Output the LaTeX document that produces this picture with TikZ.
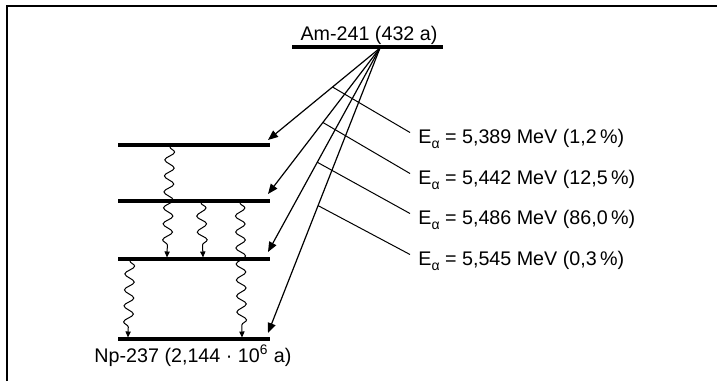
\documentclass[tikz,border=0pt]{standalone}
\usepackage{fontspec}
\setmainfont{Liberation Sans}
\usetikzlibrary{arrows.meta,decorations.pathmorphing,calc}
\begin{document}
\begin{tikzpicture}[x=0.5pt,y=-0.5pt,
  levelbar/.style={line width=1.6pt},
  alphaarrow/.style={line width=0.6pt,-{Triangle[length=5pt,width=4pt]}},
  gamma/.style={line width=0.5pt,decorate,
    decoration={snake,segment length=8pt,amplitude=2.4pt,pre length=0.5pt,post length=3.5pt},
    -{Triangle[length=3pt,width=2.6pt]}},
  pointer/.style={line width=0.5pt},
  txt/.style={inner sep=0pt,font=\fontsize{9.85}{12}\selectfont},
  lab/.style={txt,anchor=base west}]
\useasboundingbox (0,0) rectangle (717,381);
% frame
\draw[line width=1pt] (7,381) -- (7,6) -- (718,6);

% parent level
\coordinate (A1) at (292,47);
\coordinate (A2) at (443,47);
\draw[levelbar] (A1) -- (A2);
\node[txt,anchor=base] (am) at (369,40) {Am-241 (432 a)};
\coordinate (src) at (380,48);

% daughter levels
\foreach \n/\y in {1/145,2/201,3/259,4/339}{
  \coordinate (L\n a) at (118,\y);
  \coordinate (L\n b) at (270,\y);
  \draw[levelbar] (L\n a) -- (L\n b);
}
\node[txt,anchor=base] (np) at (193,362) {Np-237 (2,144 · 10\textsuperscript{6} a)};

% alpha transitions
\coordinate (t1) at (268,140);
\coordinate (t2) at (268,194);
\coordinate (t3) at (268,252);
\coordinate (t4) at (268,333);
\draw[alphaarrow] (src) -- coordinate[pos=0.424] (p1) (t1);
\draw[alphaarrow] (src) -- coordinate[pos=0.51] (p2) (t2);
\draw[alphaarrow] (src) -- coordinate[pos=0.56] (p3) (t3);
\draw[alphaarrow] (src) -- coordinate[pos=0.553] (p4) (t4);

% labels
\newcommand{\Ealpha}{E\raisebox{-0.5ex}{\fontsize{7}{8}\selectfont α}}
\node[lab] (e1) at (418,143) {\Ealpha{} = 5,389 MeV (1,2\,\%)};
\node[lab] (e2) at (418,184) {\Ealpha{} = 5,442 MeV (12,5\,\%)};
\node[lab] (e3) at (418,224) {\Ealpha{} = 5,486 MeV (86,0\,\%)};
\node[lab] (e4) at (418,265) {\Ealpha{} = 5,545 MeV (0,3\,\%)};
\foreach \i in {1,2,3,4}{
  \draw[pointer] (p\i) -- ($(e\i.base west)+(-8,-10.5)$);
}

% gamma transitions
\coordinate (g1s) at (170,146);
\coordinate (g1e) at (167,257.5);
\coordinate (g2s) at (201,202);
\coordinate (g2e) at (203,257.5);
\coordinate (g3s) at (240,202);
\coordinate (g3e) at (242,337.5);
\coordinate (g4s) at (130,260);
\coordinate (g4e) at (128,337.5);
\foreach \i in {1,2,3,4}{
  \draw[gamma] (g\i s) -- (g\i e);
}
\end{tikzpicture}
\end{document}
